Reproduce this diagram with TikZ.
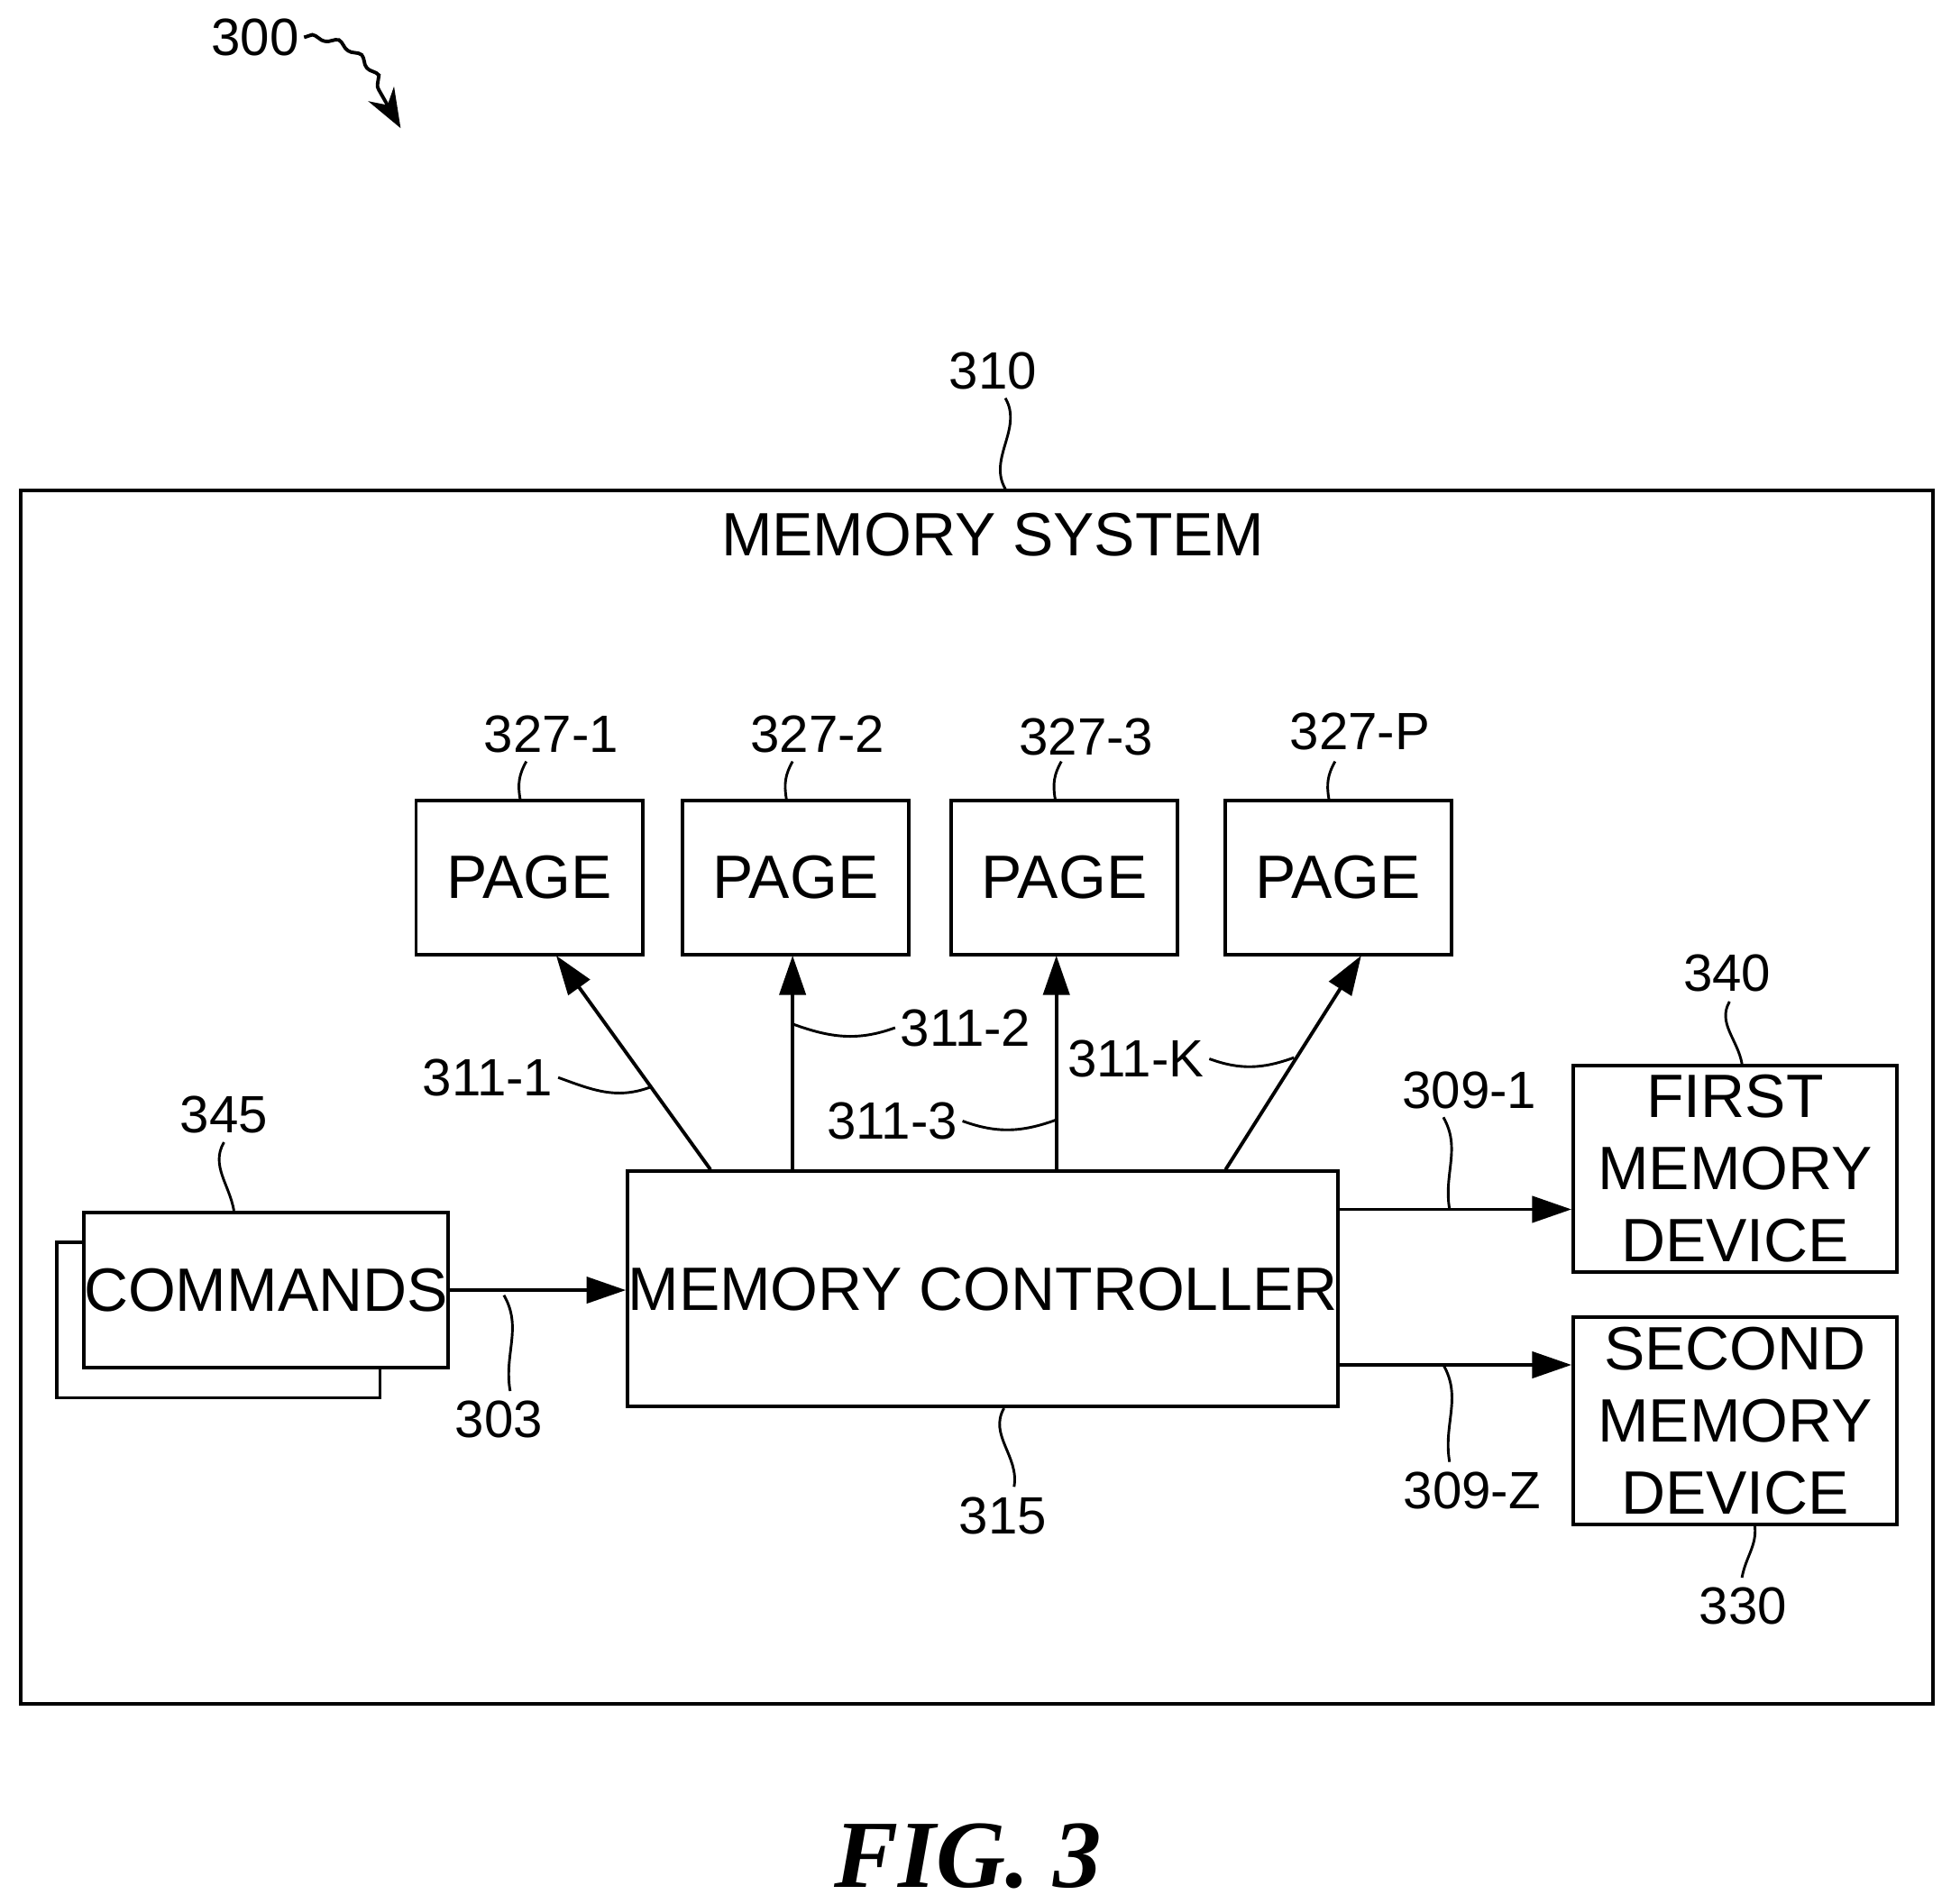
\documentclass[tikz,border=0pt]{standalone}
\usepackage{fontspec}
\setmainfont{Liberation Sans}
\newfontfamily\figfont{Liberation Serif}
\usetikzlibrary{arrows.meta,decorations.pathmorphing,calc}
\begin{document}
\begin{tikzpicture}[x=0.1mm,y=-0.1mm,
  box/.style={draw,line width=0.8pt,fill=white,inner sep=0pt},
  txt/.style={font=\fontsize{14}{16.5}\selectfont,align=center},
  lab/.style={font=\fontsize{12}{14}\selectfont,inner sep=1pt},
  lead/.style={line width=0.6pt},
  arr/.style={line width=0.8pt,-{Triangle[length=9pt,width=6pt]}}]
\useasboundingbox (0,0) rectangle (1568,1530);
% outer
\node[box,fill=none,minimum width=153.7mm,minimum height=97.5mm,anchor=north west] (sys) at (15,393) {};
\node[txt] (syst) at (798,430) {MEMORY SYSTEM};
\node[lab] (l310) at (798,298) {310};
\draw[lead] (808,320) to[out=-60,in=120] (808,393);
% 300
\node[lab] (l300) at (205,30) {300};
\coordinate (a300) at (322,103);
\draw[line width=0.8pt,-{Stealth[length=9pt]},decorate,decoration={snake,amplitude=0.6pt,segment length=6pt,post length=10pt}] (l300.east) to[out=0,in=120] (a300);
% pages
\foreach \n/\x/\l/\ly in {1/333/327-1/590,2/547/327-2/590,3/763/327-3/592,4/983/327-P/588}{
  \node[box,txt,minimum width=18.2mm,minimum height=12.4mm,anchor=north west] (p\n) at (\x,642) {PAGE};
  \node[lab] (lp\n) at (\x+110,\ly) {\l};
  \draw[lead] ($(\x+90,612)$) to[out=-120,in=100] (\x+85,642);
}
% controller
\node[box,txt,minimum width=57.1mm,minimum height=18.9mm,anchor=north west] (mc) at (503,940) {MEMORY CONTROLLER};
\node[lab] (l315) at (806,1218) {315};
\draw[lead] (mc.south) ++(17,0) to[out=-120,in=80] (815,1195);
\coordinate (m1) at (571,940); \coordinate (m2) at (637,940);
\coordinate (m3) at (849,940); \coordinate (m4) at (985,940);
\draw[arr] (m1) -- (447,768);
\draw[arr] (m2) -- (637,768);
\draw[arr] (m3) -- (849,768);
\draw[arr] (m4) -- (1094,768);
\node[lab] (l3111) at (392,866) {311-1};
\draw[lead] (l3111.east) to[out=-20,in=200] (522,874);
\node[lab] (l3112) at (776,826) {311-2};
\draw[lead] (637,823) to[out=-20,in=200] (l3112.west);
\node[lab] (l3113) at (717,901) {311-3};
\draw[lead] (l3113.east) to[out=-20,in=200] (849,900);
\node[lab] (l311K) at (913,851) {311-K};
\draw[lead] (l311K.east) to[out=-20,in=200] (1040,850);
% commands
\node[box,minimum width=26mm,minimum height=12.5mm,anchor=north west] (cb) at (44,997) {};
\node[box,txt,minimum width=26mm,minimum height=12.5mm,anchor=north west] (cmd) at (66,973) {COMMANDS};
\node[lab] (l345) at (180,896) {345};
\draw[lead] (180,918) to[out=-120,in=100] (188,973);
\draw[arr] (cmd.east) -- (mc.west |- cmd.east);
\node[lab] (l303) at (401,1141) {303};
\draw[lead] (405,1041) to[out=-60,in=100] (410,1118);
% devices
\node[box,txt,minimum width=26mm,minimum height=16.6mm,anchor=north west] (d1) at (1263,855) {FIRST\\MEMORY\\DEVICE};
\node[box,txt,minimum width=26mm,minimum height=16.7mm,anchor=north west] (d2) at (1263,1057) {SECOND\\MEMORY\\DEVICE};
\node[lab] (l340) at (1388,782) {340};
\draw[lead] (1390,805) to[out=-120,in=100] (1400,855);
\node[lab] (l330) at (1401,1291) {330};
\draw[lead] (1410,1224) to[out=-80,in=80] (1400,1268);
\coordinate (o1) at (1074,972); \coordinate (o2) at (1074,1097);
\draw[arr] (o1) -- (d1.west |- o1);
\draw[arr] (o2) -- (d2.west |- o2);
\node[lab] (l3091) at (1181,876) {309-1};
\draw[lead] (1160,898) to[out=-60,in=100] (1165,972);
\node[lab] (l309Z) at (1183,1198) {309-Z};
\draw[lead] (1160,1097) to[out=-60,in=100] (1165,1175);
% caption
\node (fig) at (778,1492) {\figfont\bfseries\itshape\fontsize{22}{26}\selectfont FIG. 3};
\end{tikzpicture}
\end{document}
